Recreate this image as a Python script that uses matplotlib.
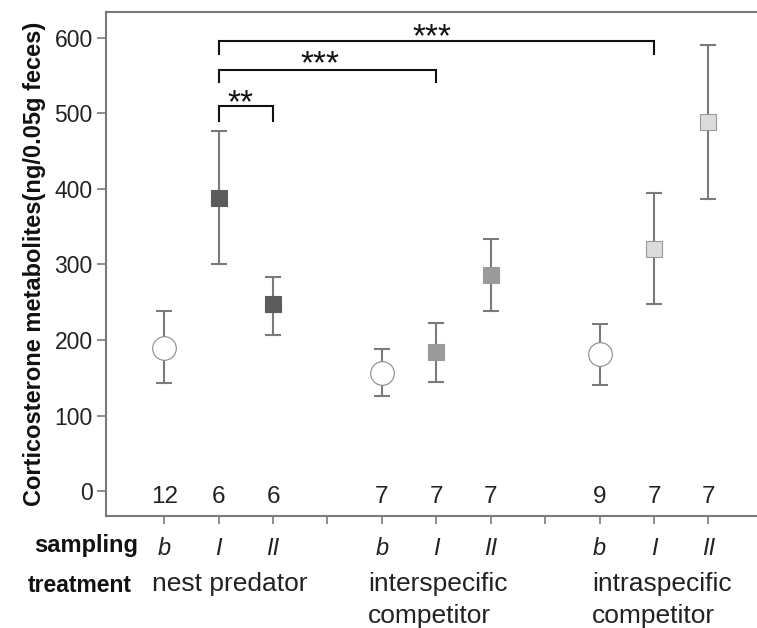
import matplotlib.pyplot as plt
import numpy as np

#font close to helvetica
plt.rcParams['font.family'] = ['Liberation Sans', 'DejaVu Sans']

#data
xpos = [1, 2, 3, 5, 6, 7, 9, 10, 11]
means = [189, 388, 247, 156, 184, 286, 181, 321, 488]
upper = [238, 476, 284, 188, 222, 334, 221, 394, 591]
lower = [143, 300, 207, 126, 145, 238, 140, 247, 386]
n_samples = ['12', '6', '6', '7', '7', '7', '9', '7', '7']
sampling = ['b', 'I', 'II', 'b', 'I', 'II', 'b', 'I', 'II']
markers = ['o', 's', 's', 'o', 's', 's', 'o', 's', 's']
facecols = ['white', '#5c5c5c', '#5c5c5c', 'white', '#9a9a9a', '#9a9a9a', 'white', '#dcdcdc', '#dcdcdc']
treatments = ['nest predator', 'interspecific\ncompetitor', 'intraspecific\ncompetitor']
treat_x = [0.78, 4.75, 8.86]
sep_ticks = [4, 8]

#brackets: (x left, x right, y top, y end, stars, star x, star y)
brackets = [(2, 3, 510, 490, '**', 2.4, 502),
            (2, 6, 557, 541, '***', 3.87, 553),
            (2, 10, 596, 579, '***', 5.92, 589)]

fig = plt.figure(figsize=(7.57, 6.28), dpi=100)
ax = fig.add_axes([0.140, 0.1783, 0.862, 0.8025])

gray = '#7a7a7a'

#error bars first, markers on top
yerr = [np.array(means) - np.array(lower), np.array(upper) - np.array(means)]
ax.errorbar(xpos, means, yerr=yerr, fmt='none', ecolor=gray, elinewidth=1.5,
            capsize=5.5, capthick=1.5, zorder=2)

for i in range(len(xpos)):
    if markers[i] == 'o':
        ms = 17
        ec = '#8a8a8a'
    else:
        ms = 11.5
        ec = '#9a9a9a' if facecols[i] == '#dcdcdc' else facecols[i]
    ax.plot(xpos[i], means[i], marker=markers[i], markersize=ms,
            markerfacecolor=facecols[i], markeredgecolor=ec, markeredgewidth=0.8,
            linestyle='none', zorder=3)

#sample sizes near zero
for i in range(len(xpos)):
    ax.text(xpos[i], -16, n_samples[i], ha='center', va='baseline', fontsize=17.5, color='#222222')

#significance brackets
for (x0, x1, ytop, yend, stars, sx, sy) in brackets:
    ax.plot([x0, x0, x1, x1], [yend, ytop, ytop, yend], color='#111111', lw=1.5,
            solid_joinstyle='miter', zorder=4)
    ax.text(sx, sy, stars, ha='center', va='baseline', fontsize=24, color='#111111')

#axes look
ax.set_xlim(-0.07, 11.92)
ax.set_ylim(-33, 634)
ax.set_yticks([0, 100, 200, 300, 400, 500, 600])
ax.tick_params(axis='y', length=6.5, width=1.2, color=gray, labelsize=16.5,
               labelcolor='#222222', pad=3)

xt = sorted(xpos + sep_ticks)
xl = []
for t in xt:
    if t in xpos:
        xl.append(sampling[xpos.index(t)])
    else:
        xl.append('')
ax.set_xticks(xt)
ax.set_xticklabels(xl, fontstyle='italic')
ax.tick_params(axis='x', length=6, width=1.2, color=gray, labelsize=17,
               labelcolor='#222222', pad=9)

for s in ['left', 'bottom', 'top']:
    ax.spines[s].set_color(gray)
    ax.spines[s].set_linewidth(1.5)
ax.spines['right'].set_visible(False)

ax.set_ylabel('Corticosterone metabolites(ng/0.05g feces)', fontsize=17,
              fontweight='bold', color='#111111', labelpad=6)

#row titles under the axis
fig.text(138 / 757, 1 - 552 / 628, 'sampling', ha='right', va='baseline',
         fontsize=17, fontweight='bold', color='#111111')
fig.text(132 / 757, 1 - 592 / 628, 'treatment', ha='right', va='baseline',
         fontsize=16.5, fontweight='bold', color='#111111')

#treatment names (second line kept just inside the bottom edge)
trans = ax.get_xaxis_transform()
for i in range(len(treatments)):
    ax.text(treat_x[i], -0.112, treatments[i], transform=trans, ha='left', va='top',
            fontsize=19, color='#222222', linespacing=1.4)

plt.savefig('out.png', dpi=100)
plt.close()
